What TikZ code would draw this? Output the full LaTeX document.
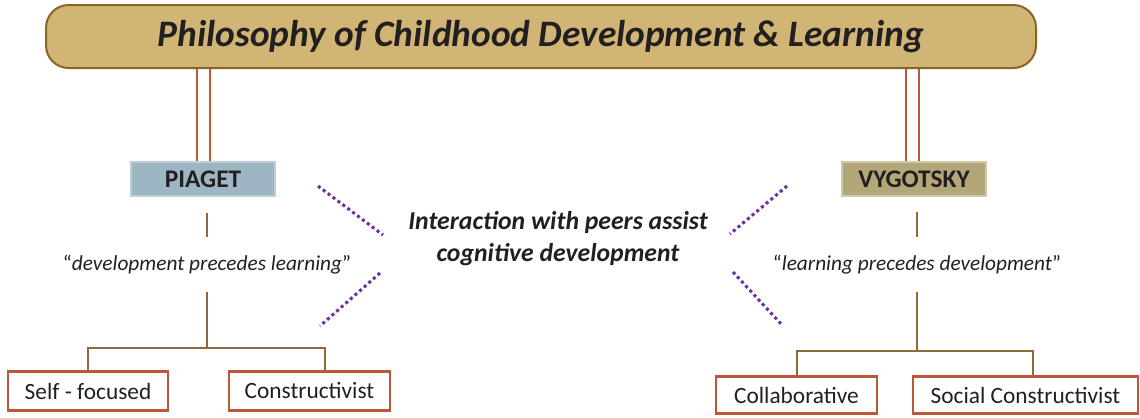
\documentclass[tikz,border=0pt]{standalone}
\usepackage{fontspec}
\setmainfont{Carlito}
\definecolor{titlefill}{HTML}{D1B574}
\definecolor{titledraw}{HTML}{8C6423}
\definecolor{rust}{HTML}{BF5639}
\definecolor{piagetfill}{HTML}{9DB6C3}
\definecolor{piagetdraw}{HTML}{BCCFD9}
\definecolor{vygfill}{HTML}{B3A679}
\definecolor{vygdraw}{HTML}{D2CAA4}
\definecolor{treecol}{HTML}{8C6A3C}
\definecolor{dotcol}{HTML}{7030A0}
\definecolor{txt}{HTML}{231F20}
\begin{document}
\begin{tikzpicture}[x=0.75pt,y=-0.75pt,
  every node/.style={text=txt},
  titlebox/.style={draw=titledraw,fill=titlefill,line width=1.5pt,rounded corners=17pt,
    minimum width=742.5pt,minimum height=47.25pt,inner sep=0pt,
    font=\fontsize{28}{32}\selectfont\bfseries\itshape},
  namebox/.style={line width=1pt,minimum width=108pt,minimum height=25.5pt,inner sep=0pt,
    font=\fontsize{19}{22}\selectfont\bfseries},
  leafbox/.style={draw=rust,fill=white,line width=2pt,minimum height=29pt,inner sep=0pt,
    font=\fontsize{17.5}{20}\selectfont},
  quote/.style={minimum height=41.25pt,inner sep=0pt,font=\fontsize{16}{19}\selectfont},
  dbl/.style={draw=rust,line width=1.9pt},
  tree/.style={draw=treecol,line width=1.5pt},
  dots/.style={draw=dotcol,line width=2.3pt,dash pattern=on 2.3pt off 2.3pt}]
\useasboundingbox (0,0) rectangle (1140,418);
\node[titlebox] (title) at (541,36.5) {Philosophy of Childhood Development \& Learning};
\node[namebox,draw=piagetdraw,fill=piagetfill] (piaget) at (203,179) {PIAGET};
\node[namebox,draw=vygdraw,fill=vygfill] (vyg) at (914,179) {VYGOTSKY};
% double lines
\draw[dbl] ([xshift=-4.5pt]piaget.north) -- ([xshift=-4.5pt]piaget.north |- title.south);
\draw[dbl] ([xshift=5.25pt]piaget.north) -- ([xshift=5.25pt]piaget.north |- title.south);
\draw[dbl] ([xshift=-6pt]vyg.north) -- ([xshift=-6pt]vyg.north |- title.south);
\draw[dbl] ([xshift=3.75pt]vyg.north) -- ([xshift=3.75pt]vyg.north |- title.south);
% quotes
\node[quote] (pq) at (207,264.5) {“\textit{development precedes learning}”};
\node[quote] (vq) at (917,264.5) {“\textit{learning precedes development}”};
% leaves
\node[leafbox,minimum width=120pt] (self) at (88,391) {Self - focused};
\node[leafbox,minimum width=120.75pt] (cons) at (309.5,391) {Constructivist};
\node[leafbox,minimum width=120.75pt,minimum height=27.5pt] (coll) at (796.5,395) {Collaborative};
\node[leafbox,minimum width=168.75pt,minimum height=27.5pt] (soc) at (1025.5,395) {Social Constructivist};
% tree left
\draw[tree] (pq.north) -- ++(0,-24);
\draw[tree] (pq.south) -- ++(0,56) coordinate (pj);
\draw[tree] (self.north) |- (pj) -| ([xshift=11.6pt]cons.north);
% tree right
\draw[tree] (vq.north) -- ++(0,-25);
\draw[tree] (vq.south) -- ++(0,59) coordinate (vj);
\draw[tree] (coll.north) |- (vj) -| ([xshift=5.6pt]soc.north);
% center text
\node[align=center,inner sep=0pt,font=\fontsize{19.3}{24}\selectfont\bfseries\itshape] (mid) at (558,239)
  {Interaction with peers assist\\cognitive development};
% dotted lines
\coordinate (d1a) at (318,186); \coordinate (d1b) at (383,235);
\coordinate (d2a) at (380,273); \coordinate (d2b) at (320,326);
\coordinate (d3a) at (787,186); \coordinate (d3b) at (730,234);
\coordinate (d4a) at (733,272); \coordinate (d4b) at (782,325);
\draw[dots] (d1a) -- (d1b);
\draw[dots] (d2a) -- (d2b);
\draw[dots] (d3a) -- (d3b);
\draw[dots] (d4a) -- (d4b);
\end{tikzpicture}
\end{document}
